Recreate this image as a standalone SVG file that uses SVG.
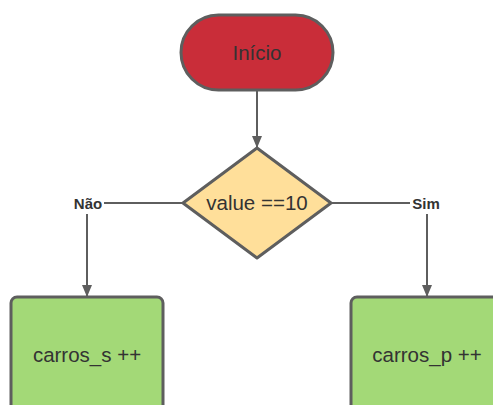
<svg xmlns="http://www.w3.org/2000/svg" width="493" height="405" viewBox="0 0 493 405">
  <style>
    .shape { stroke: #5e5e5e; stroke-width: 3; stroke-linejoin: round; }
    .label { font-family: "Liberation Sans", Arial, sans-serif; font-size: 20.5px; fill: #333333; text-anchor: middle; dominant-baseline: central; }
    .edge { fill: none; stroke: #5e5e5e; stroke-width: 2; }
    .edge-label { font-family: "Liberation Sans", Arial, sans-serif; font-size: 15px; font-weight: bold; fill: #333333; text-anchor: middle; dominant-baseline: central; }
  </style>
  <defs>
    <marker id="arrow" viewBox="0 0 12 10" refX="11" refY="5" markerWidth="12" markerHeight="10" markerUnits="userSpaceOnUse" orient="auto">
      <path d="M0,0 L12,5 L0,10 z" fill="#5e5e5e"/>
    </marker>
  </defs>
  <rect width="493" height="405" fill="#ffffff"/>

  <g id="connectors">
    <line class="edge" x1="257" y1="90" x2="257" y2="147" marker-end="url(#arrow)"/>
    <path class="edge" d="M183,203 H104"/>
    <text class="edge-label" x="88" y="203">Não</text>
    <path class="edge" d="M87,214 V296" marker-end="url(#arrow)"/>
    <path class="edge" d="M331,203 H410"/>
    <text class="edge-label" x="426" y="203">Sim</text>
    <path class="edge" d="M427,214 V296" marker-end="url(#arrow)"/>
  </g>

  <g id="inicio">
    <rect class="shape" x="181" y="15" width="152" height="75" rx="37.5" fill="#c92d39"/>
    <text class="label" x="257" y="52">Início</text>
  </g>

  <g id="decisao">
    <path class="shape" d="M257,148 L331,203 L257,258 L183,203 Z" fill="#ffdf9a"/>
    <text class="label" x="257" y="202">value ==10</text>
  </g>

  <g id="carros-s">
    <rect class="shape" x="11" y="297" width="152" height="130" rx="6" fill="#a3d977"/>
    <text class="label" x="87" y="354">carros_s ++</text>
  </g>

  <g id="carros-p">
    <rect class="shape" x="351" y="297" width="152" height="130" rx="6" fill="#a3d977"/>
    <text class="label" x="427" y="354">carros_p ++</text>
  </g>
</svg>
